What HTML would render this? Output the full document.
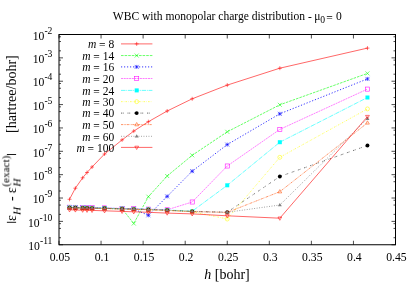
<!DOCTYPE html>
<html><head><meta charset="utf-8"><title>WBC plot</title>
<style>html,body{margin:0;padding:0;background:#fff;}svg{display:block;}text{font-family:"Liberation Serif",serif;fill:#000;will-change:transform;}.t{font-size:11.7px;}.tt{font-size:11.55px;}.lg{font-size:11.5px;}.a{font-size:14px;}.s{font-size:9.6px;}.as{font-size:11.2px;}.i{font-style:italic;}</style></head><body>
<svg width="415" height="291" viewBox="0 0 415 291">
<rect width="415" height="291" fill="#fff"/>
<text class="tt" x="112.8" y="19.8">WBC with monopolar charge distribution <tspan dy="1.1">-</tspan><tspan dy="-1.1"> </tspan><tspan dx="-0.3">μ</tspan><tspan class="s" dy="3.5" dx="-0.2">0</tspan><tspan dy="-1.4" dx="1.2">=</tspan><tspan dx="3.1" dy="-1.8">0</tspan></text>
<path d="M59.0 34.50h4M395.5 34.50h-4M59.0 50.83h2M395.5 50.83h-2M59.0 41.53h2M395.5 41.53h-2M59.0 36.77h2M395.5 36.77h-2M59.0 57.86h4M395.5 57.86h-4M59.0 74.19h2M395.5 74.19h-2M59.0 64.89h2M395.5 64.89h-2M59.0 60.13h2M395.5 60.13h-2M59.0 81.22h4M395.5 81.22h-4M59.0 97.55h2M395.5 97.55h-2M59.0 88.25h2M395.5 88.25h-2M59.0 83.49h2M395.5 83.49h-2M59.0 104.58h4M395.5 104.58h-4M59.0 120.91h2M395.5 120.91h-2M59.0 111.62h2M395.5 111.62h-2M59.0 106.85h2M395.5 106.85h-2M59.0 127.94h4M395.5 127.94h-4M59.0 144.27h2M395.5 144.27h-2M59.0 134.98h2M395.5 134.98h-2M59.0 130.21h2M395.5 130.21h-2M59.0 151.31h4M395.5 151.31h-4M59.0 167.63h2M395.5 167.63h-2M59.0 158.34h2M395.5 158.34h-2M59.0 153.57h2M395.5 153.57h-2M59.0 174.67h4M395.5 174.67h-4M59.0 191.00h2M395.5 191.00h-2M59.0 181.70h2M395.5 181.70h-2M59.0 176.93h2M395.5 176.93h-2M59.0 198.03h4M395.5 198.03h-4M59.0 214.36h2M395.5 214.36h-2M59.0 205.06h2M395.5 205.06h-2M59.0 200.29h2M395.5 200.29h-2M59.0 221.39h4M395.5 221.39h-4M59.0 237.72h2M395.5 237.72h-2M59.0 228.42h2M395.5 228.42h-2M59.0 223.65h2M395.5 223.65h-2M59.0 244.75h4M395.5 244.75h-4M59.00 244.75v-4M59.00 34.5v4M101.06 244.75v-4M101.06 34.5v4M143.12 244.75v-4M143.12 34.5v4M185.19 244.75v-4M185.19 34.5v4M227.25 244.75v-4M227.25 34.5v4M269.31 244.75v-4M269.31 34.5v4M311.38 244.75v-4M311.38 34.5v4M353.44 244.75v-4M353.44 34.5v4M395.50 244.75v-4M395.50 34.5v4" stroke="#000" stroke-width="0.7" fill="none"/>
<text class="t" x="52.4" y="39.70" text-anchor="end">10<tspan class="s" dy="-6.0">-2</tspan></text>
<text class="t" x="52.4" y="63.06" text-anchor="end">10<tspan class="s" dy="-6.0">-3</tspan></text>
<text class="t" x="52.4" y="86.42" text-anchor="end">10<tspan class="s" dy="-6.0">-4</tspan></text>
<text class="t" x="52.4" y="109.78" text-anchor="end">10<tspan class="s" dy="-6.0">-5</tspan></text>
<text class="t" x="52.4" y="133.14" text-anchor="end">10<tspan class="s" dy="-6.0">-6</tspan></text>
<text class="t" x="52.4" y="156.51" text-anchor="end">10<tspan class="s" dy="-6.0">-7</tspan></text>
<text class="t" x="52.4" y="179.87" text-anchor="end">10<tspan class="s" dy="-6.0">-8</tspan></text>
<text class="t" x="52.4" y="203.23" text-anchor="end">10<tspan class="s" dy="-6.0">-9</tspan></text>
<text class="t" x="52.4" y="226.59" text-anchor="end">10<tspan class="s" dy="-6.0">-10</tspan></text>
<text class="t" x="52.4" y="249.95" text-anchor="end">10<tspan class="s" dy="-6.0">-11</tspan></text>
<text class="t" x="59.90" y="260.6" text-anchor="middle">0.05</text>
<text class="t" x="101.96" y="260.6" text-anchor="middle">0.1</text>
<text class="t" x="144.03" y="260.6" text-anchor="middle">0.15</text>
<text class="t" x="186.09" y="260.6" text-anchor="middle">0.2</text>
<text class="t" x="228.15" y="260.6" text-anchor="middle">0.25</text>
<text class="t" x="270.21" y="260.6" text-anchor="middle">0.3</text>
<text class="t" x="312.27" y="260.6" text-anchor="middle">0.35</text>
<text class="t" x="354.34" y="260.6" text-anchor="middle">0.4</text>
<text class="t" x="396.40" y="260.6" text-anchor="middle">0.45</text>
<text class="a" x="227" y="279.0" text-anchor="middle"><tspan class="i">h</tspan> [bohr]</text>
<path d="M6.9 222.3H16.1M6.9 154.5H16.1" stroke="#000" stroke-width="0.9" fill="none"/>
<text class="a" transform="translate(16 221.0) rotate(-90)">ε</text>
<text class="as i" transform="translate(20.5 215.0) rotate(-90)">H</text>
<text class="a" transform="translate(16 201.0) rotate(-90)">-</text>
<text class="a" transform="translate(16 193.2) rotate(-90)">ε</text>
<text class="as i" transform="translate(20.5 186.6) rotate(-90)">H</text>
<text class="as" transform="translate(9.3 186.6) rotate(-90)">(exact)</text>
<text class="a" transform="translate(16 133.0) rotate(-90)">[hartree/bohr]</text>
<text class="lg" x="114.2" y="48.20" text-anchor="end"><tspan class="i">m</tspan> <tspan dy="1">=</tspan><tspan dy="-1"> 8</tspan></text>
<path d="M121 43.90H152.4" stroke="#ff0000" stroke-width="0.6" fill="none"/>
<path d="M134.70 43.90H138.70M136.70 41.90V45.90" stroke="#ff0000" stroke-width="0.55" fill="none"/>
<polyline points="69.52,199.30 75.36,188.20 82.66,177.80 87.04,172.50 92.05,167.00 104.57,154.00 122.09,139.90 133.78,131.10 148.38,121.70 167.16,111.00 192.20,98.80 227.25,85.10 279.83,68.20 367.46,48.10" stroke="#ff0000" stroke-width="0.6" fill="none"/>
<path d="M67.52 199.30H71.52M69.52 197.30V201.30" stroke="#ff0000" stroke-width="0.55" fill="none"/>
<path d="M73.36 188.20H77.36M75.36 186.20V190.20" stroke="#ff0000" stroke-width="0.55" fill="none"/>
<path d="M80.66 177.80H84.66M82.66 175.80V179.80" stroke="#ff0000" stroke-width="0.55" fill="none"/>
<path d="M85.04 172.50H89.04M87.04 170.50V174.50" stroke="#ff0000" stroke-width="0.55" fill="none"/>
<path d="M90.05 167.00H94.05M92.05 165.00V169.00" stroke="#ff0000" stroke-width="0.55" fill="none"/>
<path d="M102.57 154.00H106.57M104.57 152.00V156.00" stroke="#ff0000" stroke-width="0.55" fill="none"/>
<path d="M120.09 139.90H124.09M122.09 137.90V141.90" stroke="#ff0000" stroke-width="0.55" fill="none"/>
<path d="M131.78 131.10H135.78M133.78 129.10V133.10" stroke="#ff0000" stroke-width="0.55" fill="none"/>
<path d="M146.38 121.70H150.38M148.38 119.70V123.70" stroke="#ff0000" stroke-width="0.55" fill="none"/>
<path d="M165.16 111.00H169.16M167.16 109.00V113.00" stroke="#ff0000" stroke-width="0.55" fill="none"/>
<path d="M190.20 98.80H194.20M192.20 96.80V100.80" stroke="#ff0000" stroke-width="0.55" fill="none"/>
<path d="M225.25 85.10H229.25M227.25 83.10V87.10" stroke="#ff0000" stroke-width="0.55" fill="none"/>
<path d="M277.83 68.20H281.83M279.83 66.20V70.20" stroke="#ff0000" stroke-width="0.55" fill="none"/>
<path d="M365.46 48.10H369.46M367.46 46.10V50.10" stroke="#ff0000" stroke-width="0.55" fill="none"/>
<text class="lg" x="114.2" y="59.85" text-anchor="end"><tspan class="i">m</tspan> <tspan dy="1">=</tspan><tspan dy="-1"> 14</tspan></text>
<path d="M121 55.55H152.4" stroke="#00ff00" stroke-width="0.6" fill="none" stroke-dasharray="2.6 1.0"/>
<path d="M134.70 53.55L138.70 57.55M134.70 57.55L138.70 53.55" stroke="#00ff00" stroke-width="0.55" fill="none"/>
<polyline points="69.52,207.60 75.36,207.70 82.66,207.90 87.04,208.00 92.05,208.10 104.57,208.30 122.09,208.80 133.78,223.50 148.38,196.70 167.16,176.00 192.20,155.30 227.25,131.80 279.83,104.80 367.46,73.40" stroke="#00ff00" stroke-width="0.6" fill="none" stroke-dasharray="2.6 1.0"/>
<path d="M67.52 205.60L71.52 209.60M67.52 209.60L71.52 205.60" stroke="#00ff00" stroke-width="0.55" fill="none"/>
<path d="M73.36 205.70L77.36 209.70M73.36 209.70L77.36 205.70" stroke="#00ff00" stroke-width="0.55" fill="none"/>
<path d="M80.66 205.90L84.66 209.90M80.66 209.90L84.66 205.90" stroke="#00ff00" stroke-width="0.55" fill="none"/>
<path d="M85.04 206.00L89.04 210.00M85.04 210.00L89.04 206.00" stroke="#00ff00" stroke-width="0.55" fill="none"/>
<path d="M90.05 206.10L94.05 210.10M90.05 210.10L94.05 206.10" stroke="#00ff00" stroke-width="0.55" fill="none"/>
<path d="M102.57 206.30L106.57 210.30M102.57 210.30L106.57 206.30" stroke="#00ff00" stroke-width="0.55" fill="none"/>
<path d="M120.09 206.80L124.09 210.80M120.09 210.80L124.09 206.80" stroke="#00ff00" stroke-width="0.55" fill="none"/>
<path d="M131.78 221.50L135.78 225.50M131.78 225.50L135.78 221.50" stroke="#00ff00" stroke-width="0.55" fill="none"/>
<path d="M146.38 194.70L150.38 198.70M146.38 198.70L150.38 194.70" stroke="#00ff00" stroke-width="0.55" fill="none"/>
<path d="M165.16 174.00L169.16 178.00M165.16 178.00L169.16 174.00" stroke="#00ff00" stroke-width="0.55" fill="none"/>
<path d="M190.20 153.30L194.20 157.30M190.20 157.30L194.20 153.30" stroke="#00ff00" stroke-width="0.55" fill="none"/>
<path d="M225.25 129.80L229.25 133.80M225.25 133.80L229.25 129.80" stroke="#00ff00" stroke-width="0.55" fill="none"/>
<path d="M277.83 102.80L281.83 106.80M277.83 106.80L281.83 102.80" stroke="#00ff00" stroke-width="0.55" fill="none"/>
<path d="M365.46 71.40L369.46 75.40M365.46 75.40L369.46 71.40" stroke="#00ff00" stroke-width="0.55" fill="none"/>
<text class="lg" x="114.2" y="71.20" text-anchor="end"><tspan class="i">m</tspan> <tspan dy="1">=</tspan><tspan dy="-1"> 16</tspan></text>
<path d="M121 66.90H152.4" stroke="#0000ff" stroke-width="0.8" fill="none" stroke-dasharray="1.2 1.8"/>
<path d="M134.70 66.90H138.70M136.70 64.90V68.90M134.70 64.90L138.70 68.90M134.70 68.90L138.70 64.90" stroke="#0000ff" stroke-width="0.55" fill="none"/>
<polyline points="69.52,207.60 75.36,207.70 82.66,207.90 87.04,208.00 92.05,208.10 104.57,208.30 122.09,208.80 133.78,209.10 148.38,215.30 167.16,196.40 192.20,171.20 227.25,144.60 279.83,113.80 367.46,78.90" stroke="#0000ff" stroke-width="0.8" fill="none" stroke-dasharray="1.2 1.8"/>
<path d="M67.52 207.60H71.52M69.52 205.60V209.60M67.52 205.60L71.52 209.60M67.52 209.60L71.52 205.60" stroke="#0000ff" stroke-width="0.55" fill="none"/>
<path d="M73.36 207.70H77.36M75.36 205.70V209.70M73.36 205.70L77.36 209.70M73.36 209.70L77.36 205.70" stroke="#0000ff" stroke-width="0.55" fill="none"/>
<path d="M80.66 207.90H84.66M82.66 205.90V209.90M80.66 205.90L84.66 209.90M80.66 209.90L84.66 205.90" stroke="#0000ff" stroke-width="0.55" fill="none"/>
<path d="M85.04 208.00H89.04M87.04 206.00V210.00M85.04 206.00L89.04 210.00M85.04 210.00L89.04 206.00" stroke="#0000ff" stroke-width="0.55" fill="none"/>
<path d="M90.05 208.10H94.05M92.05 206.10V210.10M90.05 206.10L94.05 210.10M90.05 210.10L94.05 206.10" stroke="#0000ff" stroke-width="0.55" fill="none"/>
<path d="M102.57 208.30H106.57M104.57 206.30V210.30M102.57 206.30L106.57 210.30M102.57 210.30L106.57 206.30" stroke="#0000ff" stroke-width="0.55" fill="none"/>
<path d="M120.09 208.80H124.09M122.09 206.80V210.80M120.09 206.80L124.09 210.80M120.09 210.80L124.09 206.80" stroke="#0000ff" stroke-width="0.55" fill="none"/>
<path d="M131.78 209.10H135.78M133.78 207.10V211.10M131.78 207.10L135.78 211.10M131.78 211.10L135.78 207.10" stroke="#0000ff" stroke-width="0.55" fill="none"/>
<path d="M146.38 215.30H150.38M148.38 213.30V217.30M146.38 213.30L150.38 217.30M146.38 217.30L150.38 213.30" stroke="#0000ff" stroke-width="0.55" fill="none"/>
<path d="M165.16 196.40H169.16M167.16 194.40V198.40M165.16 194.40L169.16 198.40M165.16 198.40L169.16 194.40" stroke="#0000ff" stroke-width="0.55" fill="none"/>
<path d="M190.20 171.20H194.20M192.20 169.20V173.20M190.20 169.20L194.20 173.20M190.20 173.20L194.20 169.20" stroke="#0000ff" stroke-width="0.55" fill="none"/>
<path d="M225.25 144.60H229.25M227.25 142.60V146.60M225.25 142.60L229.25 146.60M225.25 146.60L229.25 142.60" stroke="#0000ff" stroke-width="0.55" fill="none"/>
<path d="M277.83 113.80H281.83M279.83 111.80V115.80M277.83 111.80L281.83 115.80M277.83 115.80L281.83 111.80" stroke="#0000ff" stroke-width="0.55" fill="none"/>
<path d="M365.46 78.90H369.46M367.46 76.90V80.90M365.46 76.90L369.46 80.90M365.46 80.90L369.46 76.90" stroke="#0000ff" stroke-width="0.55" fill="none"/>
<text class="lg" x="114.2" y="82.80" text-anchor="end"><tspan class="i">m</tspan> <tspan dy="1">=</tspan><tspan dy="-1"> 20</tspan></text>
<path d="M121 78.50H152.4" stroke="#ff00ff" stroke-width="0.5" fill="none" stroke-dasharray="2.0 0.7"/>
<rect x="134.65" y="76.45" width="4.10" height="4.10" stroke="#ff00ff" stroke-width="0.55" fill="none"/>
<polyline points="69.52,207.20 75.36,207.30 82.66,207.50 87.04,207.60 92.05,207.70 104.57,207.90 122.09,208.40 133.78,208.70 148.38,209.10 167.16,209.80 192.20,202.00 227.25,166.00 279.83,129.40 367.46,89.10" stroke="#ff00ff" stroke-width="0.5" fill="none" stroke-dasharray="2.0 0.7"/>
<rect x="67.47" y="205.15" width="4.10" height="4.10" stroke="#ff00ff" stroke-width="0.55" fill="none"/>
<rect x="73.31" y="205.25" width="4.10" height="4.10" stroke="#ff00ff" stroke-width="0.55" fill="none"/>
<rect x="80.61" y="205.45" width="4.10" height="4.10" stroke="#ff00ff" stroke-width="0.55" fill="none"/>
<rect x="84.99" y="205.55" width="4.10" height="4.10" stroke="#ff00ff" stroke-width="0.55" fill="none"/>
<rect x="90.00" y="205.65" width="4.10" height="4.10" stroke="#ff00ff" stroke-width="0.55" fill="none"/>
<rect x="102.52" y="205.85" width="4.10" height="4.10" stroke="#ff00ff" stroke-width="0.55" fill="none"/>
<rect x="120.04" y="206.35" width="4.10" height="4.10" stroke="#ff00ff" stroke-width="0.55" fill="none"/>
<rect x="131.73" y="206.65" width="4.10" height="4.10" stroke="#ff00ff" stroke-width="0.55" fill="none"/>
<rect x="146.33" y="207.05" width="4.10" height="4.10" stroke="#ff00ff" stroke-width="0.55" fill="none"/>
<rect x="165.11" y="207.75" width="4.10" height="4.10" stroke="#ff00ff" stroke-width="0.55" fill="none"/>
<rect x="190.15" y="199.95" width="4.10" height="4.10" stroke="#ff00ff" stroke-width="0.55" fill="none"/>
<rect x="225.20" y="163.95" width="4.10" height="4.10" stroke="#ff00ff" stroke-width="0.55" fill="none"/>
<rect x="277.78" y="127.35" width="4.10" height="4.10" stroke="#ff00ff" stroke-width="0.55" fill="none"/>
<rect x="365.41" y="87.05" width="4.10" height="4.10" stroke="#ff00ff" stroke-width="0.55" fill="none"/>
<text class="lg" x="114.2" y="94.70" text-anchor="end"><tspan class="i">m</tspan> <tspan dy="1">=</tspan><tspan dy="-1"> 24</tspan></text>
<path d="M121 90.40H152.4" stroke="#00ffff" stroke-width="0.6" fill="none" stroke-dasharray="4.5 0.8 0.8 0.8"/>
<rect x="134.70" y="88.40" width="4.00" height="4.00" fill="#00ffff"/>
<polyline points="69.52,207.40 75.36,207.50 82.66,207.70 87.04,207.80 92.05,207.90 104.57,208.10 122.09,208.60 133.78,208.90 148.38,209.30 167.16,210.00 192.20,211.20 227.25,185.30 279.83,142.20 367.46,97.50" stroke="#00ffff" stroke-width="0.6" fill="none" stroke-dasharray="4.5 0.8 0.8 0.8"/>
<rect x="67.52" y="205.40" width="4.00" height="4.00" fill="#00ffff"/>
<rect x="73.36" y="205.50" width="4.00" height="4.00" fill="#00ffff"/>
<rect x="80.66" y="205.70" width="4.00" height="4.00" fill="#00ffff"/>
<rect x="85.04" y="205.80" width="4.00" height="4.00" fill="#00ffff"/>
<rect x="90.05" y="205.90" width="4.00" height="4.00" fill="#00ffff"/>
<rect x="102.57" y="206.10" width="4.00" height="4.00" fill="#00ffff"/>
<rect x="120.09" y="206.60" width="4.00" height="4.00" fill="#00ffff"/>
<rect x="131.78" y="206.90" width="4.00" height="4.00" fill="#00ffff"/>
<rect x="146.38" y="207.30" width="4.00" height="4.00" fill="#00ffff"/>
<rect x="165.16" y="208.00" width="4.00" height="4.00" fill="#00ffff"/>
<rect x="190.20" y="209.20" width="4.00" height="4.00" fill="#00ffff"/>
<rect x="225.25" y="183.30" width="4.00" height="4.00" fill="#00ffff"/>
<rect x="277.83" y="140.20" width="4.00" height="4.00" fill="#00ffff"/>
<rect x="365.46" y="95.50" width="4.00" height="4.00" fill="#00ffff"/>
<text class="lg" x="114.2" y="105.95" text-anchor="end"><tspan class="i">m</tspan> <tspan dy="1">=</tspan><tspan dy="-1"> 30</tspan></text>
<path d="M121 101.65H152.4" stroke="#ffff00" stroke-width="0.6" fill="none" stroke-dasharray="1.6 1.2 0.5 1.2"/>
<circle cx="136.70" cy="101.65" r="2.00" stroke="#ffff00" stroke-width="0.55" fill="none"/>
<polyline points="69.52,207.80 75.36,207.90 82.66,208.10 87.04,208.20 92.05,208.30 104.57,208.50 122.09,209.00 133.78,209.30 148.38,209.70 167.16,210.40 192.20,211.60 227.25,219.00 279.83,157.30 367.46,108.90" stroke="#ffff00" stroke-width="0.6" fill="none" stroke-dasharray="1.6 1.2 0.5 1.2"/>
<circle cx="69.52" cy="207.80" r="2.00" stroke="#ffff00" stroke-width="0.55" fill="none"/>
<circle cx="75.36" cy="207.90" r="2.00" stroke="#ffff00" stroke-width="0.55" fill="none"/>
<circle cx="82.66" cy="208.10" r="2.00" stroke="#ffff00" stroke-width="0.55" fill="none"/>
<circle cx="87.04" cy="208.20" r="2.00" stroke="#ffff00" stroke-width="0.55" fill="none"/>
<circle cx="92.05" cy="208.30" r="2.00" stroke="#ffff00" stroke-width="0.55" fill="none"/>
<circle cx="104.57" cy="208.50" r="2.00" stroke="#ffff00" stroke-width="0.55" fill="none"/>
<circle cx="122.09" cy="209.00" r="2.00" stroke="#ffff00" stroke-width="0.55" fill="none"/>
<circle cx="133.78" cy="209.30" r="2.00" stroke="#ffff00" stroke-width="0.55" fill="none"/>
<circle cx="148.38" cy="209.70" r="2.00" stroke="#ffff00" stroke-width="0.55" fill="none"/>
<circle cx="167.16" cy="210.40" r="2.00" stroke="#ffff00" stroke-width="0.55" fill="none"/>
<circle cx="192.20" cy="211.60" r="2.00" stroke="#ffff00" stroke-width="0.55" fill="none"/>
<circle cx="227.25" cy="219.00" r="2.00" stroke="#ffff00" stroke-width="0.55" fill="none"/>
<circle cx="279.83" cy="157.30" r="2.00" stroke="#ffff00" stroke-width="0.55" fill="none"/>
<circle cx="367.46" cy="108.90" r="2.00" stroke="#ffff00" stroke-width="0.55" fill="none"/>
<text class="lg" x="114.2" y="117.40" text-anchor="end"><tspan class="i">m</tspan> <tspan dy="1">=</tspan><tspan dy="-1"> 40</tspan></text>
<path d="M121 113.10H152.4" stroke="#000000" stroke-width="0.6" fill="none" stroke-dasharray="1.0 0.7 1.0 3.8"/>
<circle cx="136.70" cy="113.10" r="1.95" fill="#000000"/>
<polyline points="69.52,207.60 75.36,207.70 82.66,207.90 87.04,208.00 92.05,208.10 104.57,208.30 122.09,208.80 133.78,209.10 148.38,209.50 167.16,210.20 192.20,211.40 227.25,212.20 279.83,176.50 367.46,145.50" stroke="#000000" stroke-width="0.6" fill="none" stroke-dasharray="1.0 0.7 1.0 3.8"/>
<circle cx="69.52" cy="207.60" r="1.95" fill="#000000"/>
<circle cx="75.36" cy="207.70" r="1.95" fill="#000000"/>
<circle cx="82.66" cy="207.90" r="1.95" fill="#000000"/>
<circle cx="87.04" cy="208.00" r="1.95" fill="#000000"/>
<circle cx="92.05" cy="208.10" r="1.95" fill="#000000"/>
<circle cx="104.57" cy="208.30" r="1.95" fill="#000000"/>
<circle cx="122.09" cy="208.80" r="1.95" fill="#000000"/>
<circle cx="133.78" cy="209.10" r="1.95" fill="#000000"/>
<circle cx="148.38" cy="209.50" r="1.95" fill="#000000"/>
<circle cx="167.16" cy="210.20" r="1.95" fill="#000000"/>
<circle cx="192.20" cy="211.40" r="1.95" fill="#000000"/>
<circle cx="227.25" cy="212.20" r="1.95" fill="#000000"/>
<circle cx="279.83" cy="176.50" r="1.95" fill="#000000"/>
<circle cx="367.46" cy="145.50" r="1.95" fill="#000000"/>
<text class="lg" x="114.2" y="128.90" text-anchor="end"><tspan class="i">m</tspan> <tspan dy="1">=</tspan><tspan dy="-1"> 50</tspan></text>
<path d="M121 124.60H152.4" stroke="#ff4d00" stroke-width="0.6" fill="none" stroke-dasharray="2.2 0.7 0.7 0.7 0.7 0.7"/>
<path d="M136.70 122.50L138.60 125.80L134.80 125.80Z" stroke="#ff4d00" stroke-width="0.55" fill="none"/>
<polyline points="69.52,207.80 75.36,207.90 82.66,208.10 87.04,208.20 92.05,208.30 104.57,208.50 122.09,209.00 133.78,209.30 148.38,209.70 167.16,210.40 192.20,211.60 227.25,212.40 279.83,191.70 367.46,122.90" stroke="#ff4d00" stroke-width="0.6" fill="none" stroke-dasharray="2.2 0.7 0.7 0.7 0.7 0.7"/>
<path d="M69.52 205.70L71.42 209.00L67.62 209.00Z" stroke="#ff4d00" stroke-width="0.55" fill="none"/>
<path d="M75.36 205.80L77.26 209.10L73.46 209.10Z" stroke="#ff4d00" stroke-width="0.55" fill="none"/>
<path d="M82.66 206.00L84.56 209.30L80.76 209.30Z" stroke="#ff4d00" stroke-width="0.55" fill="none"/>
<path d="M87.04 206.10L88.94 209.40L85.14 209.40Z" stroke="#ff4d00" stroke-width="0.55" fill="none"/>
<path d="M92.05 206.20L93.95 209.50L90.15 209.50Z" stroke="#ff4d00" stroke-width="0.55" fill="none"/>
<path d="M104.57 206.40L106.47 209.70L102.67 209.70Z" stroke="#ff4d00" stroke-width="0.55" fill="none"/>
<path d="M122.09 206.90L123.99 210.20L120.19 210.20Z" stroke="#ff4d00" stroke-width="0.55" fill="none"/>
<path d="M133.78 207.20L135.68 210.50L131.88 210.50Z" stroke="#ff4d00" stroke-width="0.55" fill="none"/>
<path d="M148.38 207.60L150.28 210.90L146.48 210.90Z" stroke="#ff4d00" stroke-width="0.55" fill="none"/>
<path d="M167.16 208.30L169.06 211.60L165.26 211.60Z" stroke="#ff4d00" stroke-width="0.55" fill="none"/>
<path d="M192.20 209.50L194.10 212.80L190.30 212.80Z" stroke="#ff4d00" stroke-width="0.55" fill="none"/>
<path d="M227.25 210.30L229.15 213.60L225.35 213.60Z" stroke="#ff4d00" stroke-width="0.55" fill="none"/>
<path d="M279.83 189.60L281.73 192.90L277.93 192.90Z" stroke="#ff4d00" stroke-width="0.55" fill="none"/>
<path d="M367.46 120.80L369.36 124.10L365.56 124.10Z" stroke="#ff4d00" stroke-width="0.55" fill="none"/>
<text class="lg" x="114.2" y="140.60" text-anchor="end"><tspan class="i">m</tspan> <tspan dy="1">=</tspan><tspan dy="-1"> 60</tspan></text>
<path d="M121 136.30H152.4" stroke="#808080" stroke-width="0.8" fill="none" stroke-dasharray="0.9 1.6"/>
<path d="M136.70 134.20L138.70 137.60L134.70 137.60Z" fill="#808080"/>
<polyline points="69.52,207.70 75.36,207.80 82.66,208.00 87.04,208.10 92.05,208.20 104.57,208.40 122.09,208.90 133.78,209.20 148.38,209.60 167.16,210.30 192.20,211.50 227.25,212.30 279.83,205.00 367.46,118.60" stroke="#808080" stroke-width="0.8" fill="none" stroke-dasharray="0.9 1.6"/>
<path d="M69.52 205.60L71.52 209.00L67.52 209.00Z" fill="#808080"/>
<path d="M75.36 205.70L77.36 209.10L73.36 209.10Z" fill="#808080"/>
<path d="M82.66 205.90L84.66 209.30L80.66 209.30Z" fill="#808080"/>
<path d="M87.04 206.00L89.04 209.40L85.04 209.40Z" fill="#808080"/>
<path d="M92.05 206.10L94.05 209.50L90.05 209.50Z" fill="#808080"/>
<path d="M104.57 206.30L106.57 209.70L102.57 209.70Z" fill="#808080"/>
<path d="M122.09 206.80L124.09 210.20L120.09 210.20Z" fill="#808080"/>
<path d="M133.78 207.10L135.78 210.50L131.78 210.50Z" fill="#808080"/>
<path d="M148.38 207.50L150.38 210.90L146.38 210.90Z" fill="#808080"/>
<path d="M167.16 208.20L169.16 211.60L165.16 211.60Z" fill="#808080"/>
<path d="M192.20 209.40L194.20 212.80L190.20 212.80Z" fill="#808080"/>
<path d="M227.25 210.20L229.25 213.60L225.25 213.60Z" fill="#808080"/>
<path d="M279.83 202.90L281.83 206.30L277.83 206.30Z" fill="#808080"/>
<path d="M367.46 116.50L369.46 119.90L365.46 119.90Z" fill="#808080"/>
<text class="lg" x="114.2" y="151.70" text-anchor="end"><tspan class="i">m</tspan> <tspan dy="1">=</tspan><tspan dy="-1"> 100</tspan></text>
<path d="M121 147.40H152.4" stroke="#ff0000" stroke-width="0.6" fill="none"/>
<path d="M136.70 149.50L138.60 146.20L134.80 146.20Z" stroke="#ff0000" stroke-width="0.55" fill="none"/>
<polyline points="69.52,209.80 75.36,210.00 82.66,210.20 87.04,210.30 92.05,210.40 104.57,210.80 122.09,211.40 133.78,211.80 148.38,212.30 167.16,213.10 192.20,213.90 227.25,215.80 279.83,218.20 367.46,116.60" stroke="#ff0000" stroke-width="0.6" fill="none"/>
<path d="M69.52 211.90L71.42 208.60L67.62 208.60Z" stroke="#ff0000" stroke-width="0.55" fill="none"/>
<path d="M75.36 212.10L77.26 208.80L73.46 208.80Z" stroke="#ff0000" stroke-width="0.55" fill="none"/>
<path d="M82.66 212.30L84.56 209.00L80.76 209.00Z" stroke="#ff0000" stroke-width="0.55" fill="none"/>
<path d="M87.04 212.40L88.94 209.10L85.14 209.10Z" stroke="#ff0000" stroke-width="0.55" fill="none"/>
<path d="M92.05 212.50L93.95 209.20L90.15 209.20Z" stroke="#ff0000" stroke-width="0.55" fill="none"/>
<path d="M104.57 212.90L106.47 209.60L102.67 209.60Z" stroke="#ff0000" stroke-width="0.55" fill="none"/>
<path d="M122.09 213.50L123.99 210.20L120.19 210.20Z" stroke="#ff0000" stroke-width="0.55" fill="none"/>
<path d="M133.78 213.90L135.68 210.60L131.88 210.60Z" stroke="#ff0000" stroke-width="0.55" fill="none"/>
<path d="M148.38 214.40L150.28 211.10L146.48 211.10Z" stroke="#ff0000" stroke-width="0.55" fill="none"/>
<path d="M167.16 215.20L169.06 211.90L165.26 211.90Z" stroke="#ff0000" stroke-width="0.55" fill="none"/>
<path d="M192.20 216.00L194.10 212.70L190.30 212.70Z" stroke="#ff0000" stroke-width="0.55" fill="none"/>
<path d="M227.25 217.90L229.15 214.60L225.35 214.60Z" stroke="#ff0000" stroke-width="0.55" fill="none"/>
<path d="M279.83 220.30L281.73 217.00L277.93 217.00Z" stroke="#ff0000" stroke-width="0.55" fill="none"/>
<path d="M367.46 118.70L369.36 115.40L365.56 115.40Z" stroke="#ff0000" stroke-width="0.55" fill="none"/>
<rect x="59.0" y="34.5" width="336.5" height="210.25" stroke="#000" stroke-width="1" fill="none"/>
</svg></body></html>
